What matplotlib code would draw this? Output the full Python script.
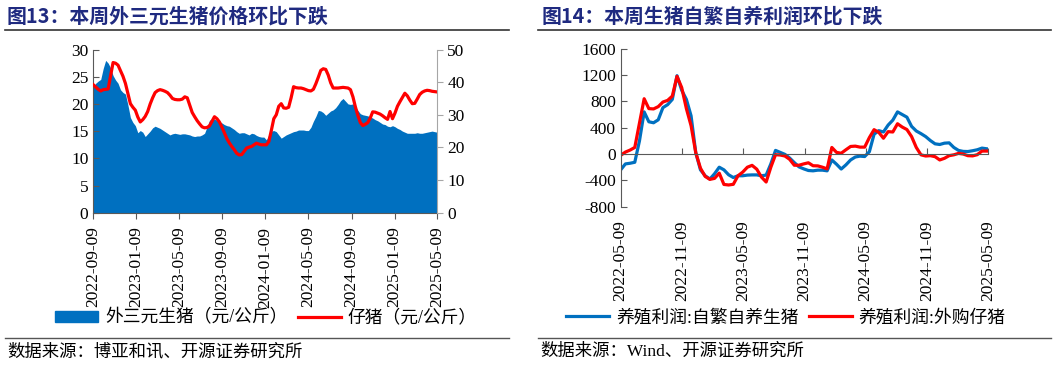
import numpy as np
import pandas as pd
import matplotlib
matplotlib.use('Agg')
from matplotlib import pyplot as plt
from matplotlib.lines import Line2D
from matplotlib.patches import Patch

plt.rcParams['font.family'] = ['Liberation Serif', 'Noto Sans CJK SC']
plt.rcParams['axes.unicode_minus'] = False

# ---- fig 13: weekly prices, 2022-09-09 .. 2025-05-09
dates13 = pd.date_range('2022-09-09', periods=140, freq='7D')
hog_price = [
    23.2, 23.8, 24.2, 24.5, 26.5, 28.0, 27.5, 26.6, 25.2, 24.4,
    23.8, 22.6, 22.1, 21.8, 19.8, 17.5, 16.6, 16.0, 14.7, 15.1,
    14.8, 14.0, 14.5, 15.0, 15.6, 15.9, 15.7, 15.5, 15.2, 14.9,
    14.6, 14.3, 14.5, 14.6, 14.5, 14.4, 14.5, 14.5, 14.4, 14.3,
    14.1, 14.0, 14.1, 14.1, 14.3, 14.6, 15.8, 17.0, 17.2, 17.2,
    17.0, 16.8, 16.5, 16.2, 16.0, 15.9, 15.6, 15.3, 14.9, 14.6,
    14.7, 14.7, 14.5, 14.3, 14.6, 14.5, 14.2, 14.0, 13.9, 13.9,
    13.4, 14.3, 15.0, 15.1, 14.9, 14.3, 13.7, 14.0, 14.3, 14.5,
    14.7, 14.9, 15.0, 15.2, 15.2, 15.2, 15.1, 15.1, 15.7, 16.8,
    17.7, 18.8, 18.7, 18.4, 17.9, 18.3, 18.7, 18.9, 19.3, 19.9,
    20.6, 21.0, 20.5, 20.0, 19.9, 20.0, 19.4, 18.8, 18.2, 18.0,
    17.9, 17.8, 17.6, 17.4, 17.1, 16.9, 16.6, 16.3, 16.2, 15.9,
    15.8, 16.0, 15.8, 15.5, 15.3, 15.0, 14.8, 14.6, 14.6, 14.6,
    14.6, 14.7, 14.6, 14.6, 14.7, 14.8, 14.9, 15.0, 14.9, 14.8,
]
piglet_price = [
    39.2, 38.5, 37.8, 37.3, 37.7, 37.8, 37.9, 42.0, 46.0, 45.8,
    45.2, 43.5, 41.8, 39.6, 36.5, 33.4, 32.3, 31.4, 29.3, 27.8,
    28.5, 29.5, 31.0, 33.3, 35.2, 36.8, 37.4, 37.7, 37.5, 37.2,
    36.8, 36.0, 35.0, 34.7, 34.6, 34.6, 34.8, 35.5, 35.2, 33.0,
    30.7, 29.4, 28.2, 27.2, 26.3, 26.0, 26.1, 26.6, 28.0, 29.4,
    28.8, 27.8, 26.2, 24.5, 22.7, 21.4, 20.3, 19.3, 18.2, 17.7,
    17.8, 18.8, 19.8, 20.1, 20.3, 20.8, 21.3, 21.0, 20.8, 20.8,
    20.8, 21.8, 25.2, 28.8, 30.0, 32.6, 33.4, 32.1, 32.0, 32.3,
    35.2, 38.6, 38.3, 38.2, 38.2, 38.0, 37.7, 37.4, 37.3, 37.8,
    39.5, 41.5, 43.6, 44.1, 43.9, 42.2, 39.8, 38.2, 38.2, 38.2,
    38.3, 38.4, 38.3, 38.2, 37.7, 35.5, 32.4, 29.8, 27.6, 26.7,
    27.1, 27.6, 29.0, 30.9, 30.8, 30.5, 30.2, 29.7, 29.1, 28.6,
    31.0, 28.8, 30.5, 32.6, 34.0, 35.3, 36.6, 35.8, 34.5, 33.4,
    33.5, 34.8, 36.2, 36.9, 37.3, 37.5, 37.4, 37.2, 37.1, 37.0,
]
ticks13 = ['2022-09-09', '2023-01-09', '2023-05-09', '2023-09-09', '2024-01-09',
           '2024-05-09', '2024-09-09', '2025-01-09', '2025-05-09']

# ---- fig 14: biweekly profits, 2022-05-09 .. 2025-05
dates14 = pd.date_range('2022-05-09', periods=79, freq='14D')
profit_self = [
    -240, -150, -140, -125, 200, 640, 490, 475, 520, 705,
    750, 830, 1190, 970, 830, 580, 20, -240, -330, -380,
    -300, -200, -240, -315, -357, -330, -330, -320, -317, -317,
    -330, -320, -150, 55, 25, -5, -60, -130, -195, -225,
    -250, -255, -245, -245, -255, -90, -155, -228, -165, -90,
    -45, -32, -38, 35, 300, 355, 335, 440, 515, 640,
    600, 560, 420, 350, 310, 265, 205, 155, 145, 165,
    170, 100, 55, 40, 38, 50, 65, 90, 80,
]
profit_bought = [
    -20, 30, 60, 100, 470, 840, 690, 685, 720, 790,
    815, 880, 1180, 1010, 690, 430, 20, -215, -340, -385,
    -370, -290, -462, -470, -460, -330, -275, -200, -172, -230,
    -350, -425, -200, -10, -15, -30, -80, -170, -170, -150,
    -133, -178, -180, -200, -225, 100, 25, 12, 65, 115,
    120, 105, 105, 250, 370, 330, 240, 340, 335, 460,
    410, 372, 265, 100, -12, -30, -25, -40, -90, -65,
    -25, -12, 10, 0, -25, -28, -10, 45, 45,
]
ticks14 = ['2022-05-09', '2022-11-09', '2023-05-09', '2023-11-09',
           '2024-05-09', '2024-11-09', '2025-05-09']

BLUE = '#0070C0'
RED = '#FF0000'
NAVY = '#1F2A80'
W, H = 1057, 365

fig = plt.figure(figsize=(W / 100, H / 100), dpi=100)


def fx(px):
    return px / W


def fy(py):
    return 1 - py / H


# titles, rules, sources
fig.text(fx(7), fy(16), '图13：本周外三元生猪价格环比下跌', fontsize=14.3, weight='bold',
         color=NAVY, va='center', ha='left', family=['Noto Sans CJK SC'])
fig.text(fx(542), fy(16), '图14：本周生猪自繁自养利润环比下跌', fontsize=14.3, weight='bold',
         color=NAVY, va='center', ha='left', family=['Noto Sans CJK SC'])
for x0, x1 in [(5, 509), (538, 1051)]:
    fig.add_artist(Line2D([fx(x0), fx(x1)], [fy(30), fy(30)], color='#333333', lw=1.2))
    fig.add_artist(Line2D([fx(x0), fx(x1)], [fy(338), fy(338)], color='#555555', lw=1.0))
fig.text(fx(7), fy(352), '数据来源：博亚和讯、开源证券研究所', fontsize=12.5, va='center', ha='left')
fig.text(fx(540), fy(352), '数据来源：Wind、开源证券研究所', fontsize=12.5, va='center', ha='left')

# ---------------- left chart
ax1 = fig.add_axes([fx(93.3), fy(212.7), fx(437 - 93.3), (212.7 - 49.5) / H])
ax1.fill_between(dates13, 0, hog_price, color=BLUE, lw=0)
ax1.set_ylim(0, 30)
ax1.set_yticks(np.arange(0, 31, 5))
ax1.set_xlim(pd.Timestamp(ticks13[0]), pd.Timestamp(ticks13[-1]))
ax1.set_xticks(pd.to_datetime(ticks13))
ax1.set_xticklabels(ticks13, rotation=90)
ax1.tick_params(axis='x', direction='out', length=4, pad=6, labelsize=12.5, color='#595959')
ax1.tick_params(axis='y', direction='in', length=4, labelsize=12.5, color='#595959')
ax1.spines['top'].set_visible(False)
ax1.spines['right'].set_visible(False)
for s in ['left', 'bottom']:
    ax1.spines[s].set_color('#595959')

ax1r = ax1.twinx()
ax1r.plot(dates13, piglet_price, color=RED, lw=2.3)
ax1r.set_ylim(0, 50)
ax1r.set_yticks(np.arange(0, 51, 10))
ax1r.tick_params(axis='y', direction='out', length=4, labelsize=12.5, color='#A6A6A6')
ax1r.spines['top'].set_visible(False)
ax1r.spines['left'].set_visible(False)
ax1r.spines['bottom'].set_visible(False)
ax1r.spines['right'].set_color('#A6A6A6')

fig.legend(handles=[Patch(color=BLUE, label='外三元生猪（元/公斤）'),
                    Line2D([], [], color=RED, lw=2.3, label='仔猪（元/公斤）')],
           loc='center', bbox_to_anchor=(fx(266), fy(318)), ncol=2, frameon=False,
           fontsize=12.8, handlelength=2.4, handleheight=0.55, handletextpad=0.4,
           columnspacing=0.6, borderpad=0)

# ---------------- right chart
ax2 = fig.add_axes([fx(620.7), fy(206.7), fx(988 - 620.7), (206.7 - 48.7) / H])
ax2.plot(dates14, profit_self, color=BLUE, lw=2.3)
ax2.plot(dates14, profit_bought, color=RED, lw=2.3)
ax2.set_ylim(-800, 1600)
ax2.set_yticks(np.arange(-800, 1601, 400))
ax2.set_xlim(pd.Timestamp(ticks14[0]), pd.Timestamp(ticks14[-1]))
ax2.set_xticks(pd.to_datetime(ticks14))
ax2.spines['bottom'].set_position(('data', 0))
ax2.spines['bottom'].set_color('#595959')
ax2.spines['left'].set_color('#595959')
ax2.spines['top'].set_visible(False)
ax2.spines['right'].set_visible(False)
ax2.tick_params(axis='x', direction='in', length=4, labelbottom=False, color='#595959')
ax2.tick_params(axis='y', direction='in', length=4, labelsize=12.5, color='#595959')

sec = ax2.secondary_xaxis('bottom')
sec.set_xticks(pd.to_datetime(ticks14))
sec.set_xticklabels(ticks14, rotation=90)
sec.tick_params(length=0, pad=10, labelsize=12.5)
sec.spines['bottom'].set_visible(False)

fig.legend(handles=[Line2D([], [], color=BLUE, lw=2.3, label='养殖利润:自繁自养生猪'),
                    Line2D([], [], color=RED, lw=2.3, label='养殖利润:外购仔猪')],
           loc='center', bbox_to_anchor=(fx(786), fy(318)), ncol=2, frameon=False,
           fontsize=12.8, handlelength=2.4, handletextpad=0.4,
           columnspacing=0.6, borderpad=0)

fig.savefig('out.png', dpi=100)
